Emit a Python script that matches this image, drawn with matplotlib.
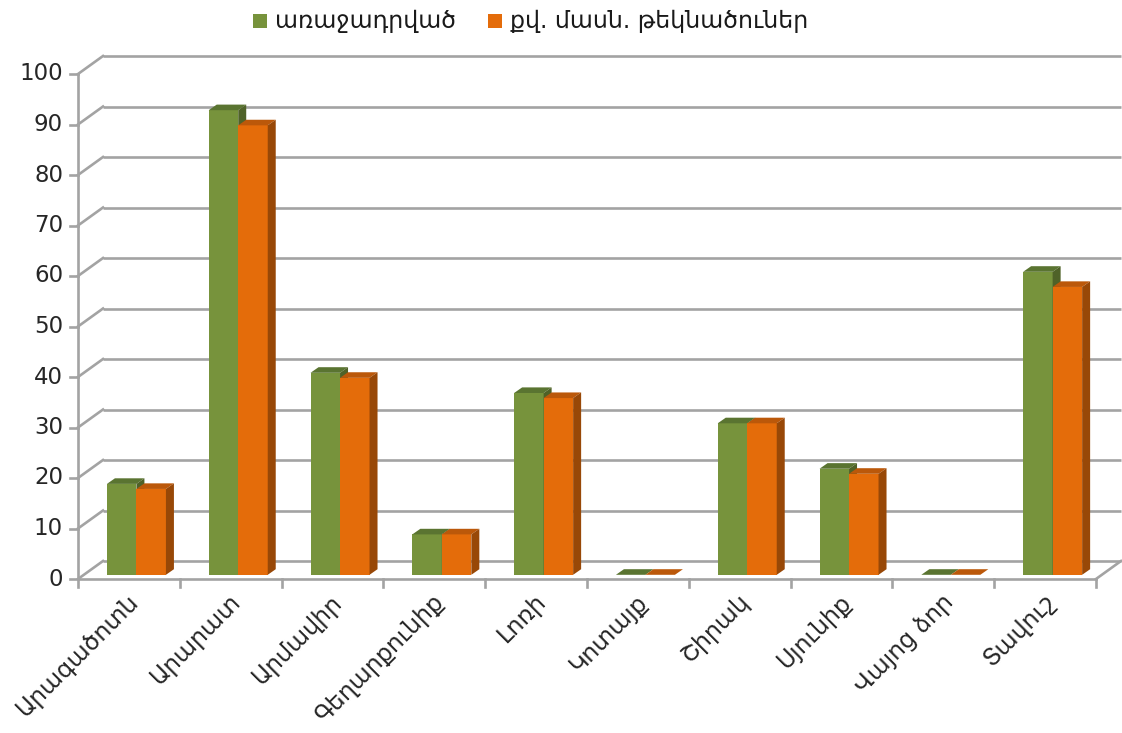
import matplotlib
matplotlib.use('Agg')
import matplotlib.pyplot as plt
from matplotlib.patches import Polygon, Rectangle

# ---- data ----
categories = ['Արագածոտն', 'Արարատ', 'Արմավիր', 'Գեղարքունիք', 'Լոռի',
              'Կոտայք', 'Շիրակ', 'Սյունիք', 'Վայոց ձոր', 'Տավուշ']
nominated = [18, 92, 40, 8, 36, 0, 30, 21, 0, 60]
candidates = [17, 89, 39, 8, 35, 0, 30, 20, 0, 57]
series_names = ['առաջադրված', 'քվ. մասն. թեկնածուներ']
yticks = [0, 10, 20, 30, 40, 50, 60, 70, 80, 90, 100]

plt.rcParams['font.family'] = ['DejaVu Sans']

W, H = 1122, 733
fig = plt.figure(figsize=(W / 100, H / 100), dpi=100)
fx0, fx1 = 78, 1096
fy0, fy100 = 579, 74
ax = fig.add_axes([fx0 / W, 1 - fy0 / H, (fx1 - fx0) / W, (fy0 - fy100) / H])
n = len(categories)
ax.set_xlim(0, n)
ax.set_ylim(0, 100)
ax.axis('off')

sx = (fx1 - fx0) / n      # px per category
sy = (fy0 - fy100) / 100  # px per value unit
ddx, ddy = 25 / sx, 18 / sy  # wall depth in data units

grid_c = '#a3a3a3'
lw = 1.9
# back wall gridlines + left diagonals
for v in yticks:
    ax.plot([ddx, n + ddx], [v + ddy, v + ddy], color=grid_c, lw=lw, zorder=1,
            clip_on=False, solid_capstyle='butt')
    ax.plot([0, ddx], [v, v + ddy], color=grid_c, lw=lw, zorder=1, clip_on=False)
    ax.plot([-8 / sx, 0], [v, v], color=grid_c, lw=lw, zorder=1, clip_on=False)
    ax.text(-15 / sx, v, str(v), ha='right', va='center', fontsize=16.5,
            color='#262626')
# floor right diagonal
ax.plot([n, n + ddx], [0, ddy], color=grid_c, lw=lw, zorder=1, clip_on=False)
# front axes
ax.plot([0, 0], [0, 100], color=grid_c, lw=lw, zorder=1, clip_on=False)
ax.plot([0, n], [0, 0], color=grid_c, lw=lw, zorder=1, clip_on=False)
for i in range(n + 1):
    ax.plot([i, i], [0, -8 / sy], color=grid_c, lw=lw, zorder=1, clip_on=False)

# bars
fdx, fdy = 6 / sx, 4.2 / sy   # bar front face depth offset
bdx, bdy = 8 / sx, 5.6 / sy   # bar depth
w = 29.5 / sx
colors = [('#77933C', '#5A7431', '#4F6228'), ('#E46C0A', '#BB580A', '#984807')]
z = 3
for i in range(n):
    gc = i + 0.5 + fdx + 0.015
    for k, vals in enumerate([nominated, candidates]):
        v = vals[i]
        xl = gc - w if k == 0 else gc
        xr = xl + w
        front, top, side = colors[k]
        if v > 0:
            ax.bar(xl, v, bottom=fdy, width=w, align='edge', color=front,
                   edgecolor='none', zorder=z)
        ax.add_patch(Polygon([(xl, v + fdy), (xr, v + fdy),
                              (xr + bdx, v + fdy + bdy), (xl + bdx, v + fdy + bdy)],
                             closed=True, facecolor=top, edgecolor='none', zorder=z))
        if v > 0:
            ax.add_patch(Polygon([(xr, fdy), (xr, v + fdy),
                                  (xr + bdx, v + fdy + bdy), (xr + bdx, fdy + bdy)],
                                 closed=True, facecolor=side, edgecolor='none', zorder=z))
        z += 1

# x labels
for i, c in enumerate(categories):
    ax.text(i + 0.5 + 0.06, -19 / sy, c, rotation=45, rotation_mode='anchor',
            ha='right', va='center', fontsize=17, color='#262626')

# legend (manual placement)
leg_marker_x = [253, 488]
for k, name in enumerate(series_names):
    mx = leg_marker_x[k]
    fig.patches.append(Rectangle((mx / W, 1 - 28 / H), 14 / W, 14 / H,
                                 transform=fig.transFigure, facecolor=colors[k][0],
                                 edgecolor='none'))
    fig.text((mx + 22) / W, 1 - 21 / H, name, ha='left', va='center',
             fontsize=17, color='#1a1a1a')

fig.savefig('out.png', dpi=100)
